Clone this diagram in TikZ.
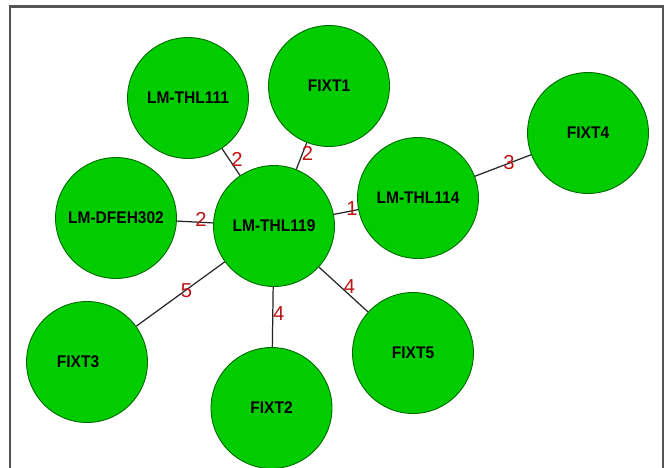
\documentclass[tikz,border=0pt]{standalone}
\usepackage{fontspec}
\setmainfont{Liberation Sans}
\newfontfamily\nodefont[FakeStretch=0.92]{Liberation Sans}
\usetikzlibrary{shapes.geometric}
\definecolor{nodegreen}{RGB}{0,204,0}
\definecolor{nodeline}{RGB}{0,105,0}
\definecolor{lblred}{RGB}{190,20,20}
\definecolor{framegray}{RGB}{85,85,85}
\tikzset{
  vertex/.style={circle, draw=nodeline, fill=nodegreen, line width=0.5pt,
    minimum size=2.42cm, inner sep=0pt, font=\nodefont\fontsize{9.6}{11}\selectfont\bfseries, text=black},
  link/.style={draw=black!85, line width=0.7pt},
  weight/.style={font=\fontsize{11.5}{13}\selectfont, text=lblred, inner sep=0pt, xshift=0.12cm, yshift=0.06cm}
}
\begin{document}
\begin{tikzpicture}[x=0.02cm, y=-0.02cm]
\useasboundingbox (0,0) rectangle (665,467);
\fill[white] (0,0) rectangle (665,467);
\draw[framegray, line width=1.2pt] (10,475) -- (10,6.5) -- (663,6.5) -- (663,475);

\node[vertex] (t111) at (188,98) {LM-THL111};
\node[vertex] (f1) at (329,86) {FIXT1};
\node[vertex] (f4) at (588,133) {FIXT4};
\node[vertex] (d302) at (116,218) {LM-DFEH302};
\node[vertex] (t119) at (274,226) {LM-THL119};
\node[vertex] (t114) at (418,198) {LM-THL114};
\node[vertex, label={[xshift=-0.18cm, font=\nodefont\fontsize{9.6}{11}\selectfont\bfseries]center:FIXT3}] (f3) at (87,362) {};
\node[vertex] (f2) at (271.5,408) {FIXT2};
\node[vertex] (f5) at (413,353) {FIXT5};

\draw[link] (t111) -- node[weight] {2} (t119);
\draw[link] (f1) -- node[weight] {2} (t119);
\draw[link] (d302) -- node[weight] {2} (t119);
\draw[link] (t119) -- node[weight] {1} (t114);
\draw[link] (t114) -- node[weight] {3} (f4);
\draw[link] (t119) -- node[weight] {5} (f3);
\draw[link] (t119) -- node[weight] {4} (f2);
\draw[link] (t119) -- node[weight] {4} (f5);
\end{tikzpicture}
\end{document}
